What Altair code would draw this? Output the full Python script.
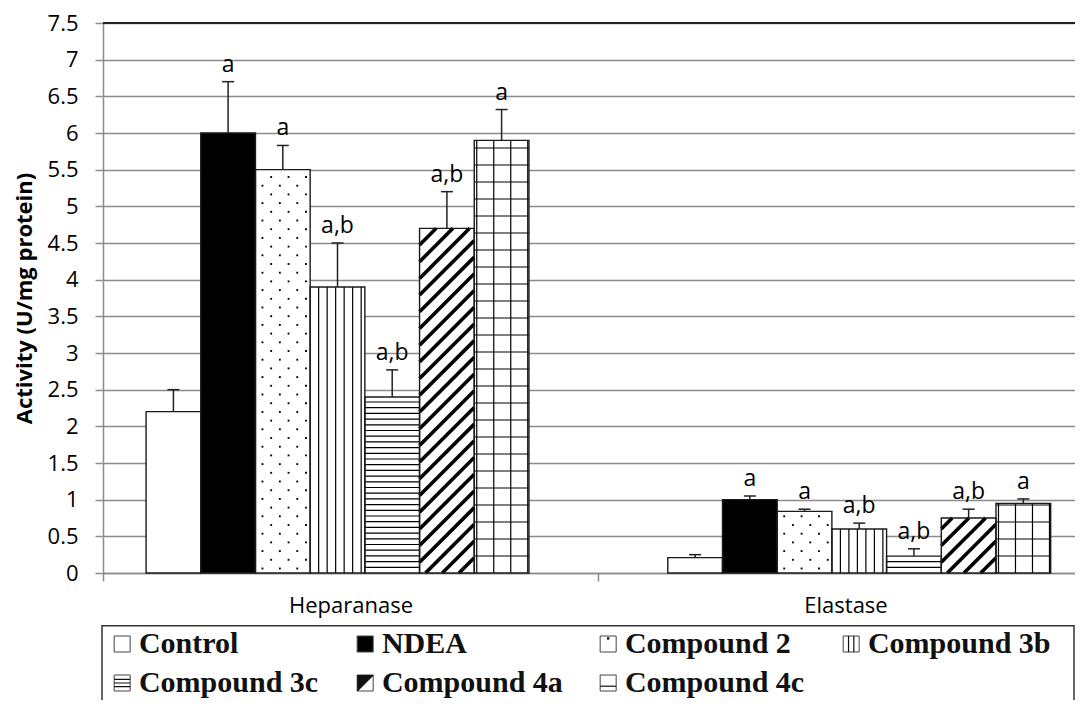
import altair as alt
import numpy as np
import pandas as pd

# ---------------- data ----------------
categories = ["Heparanase", "Elastase"]
series = ["Control", "NDEA", "Compound 2", "Compound 3b", "Compound 3c", "Compound 4a", "Compound 4c"]
heparanase_mean = [2.2, 6.0, 5.5, 3.9, 2.4, 4.7, 5.9]
heparanase_sd = [0.3, 0.7, 0.33, 0.6, 0.37, 0.5, 0.42]
elastase_mean = [0.21, 1.0, 0.84, 0.6, 0.23, 0.75, 0.95]
elastase_sd = [0.04, 0.05, 0.03, 0.08, 0.1, 0.12, 0.06]
heparanase_letters = ["", "a", "a", "a,b", "a,b", "a,b", "a"]
elastase_letters = ["", "a", "a", "a,b", "a,b", "a,b", "a"]
legend_labels = ["Control", "NDEA", "Compound 2", "Compound 3b",
                 "\u00a0Compound 3c", "Compound 4a", "Compound 4c"]
y_ticks = [0, 0.5, 1, 1.5, 2, 2.5, 3, 3.5, 4, 4.5, 5, 5.5, 6, 6.5, 7, 7.5]
y_title = "Activity (U/mg protein)"

# ---------------- styles / layout ----------------
series_fill = ["white", "black", "white", "white", "white", "white", "white"]
series_pattern = ["none", "none", "dots", "vlines", "hlines", "diag", "grid"]
W, H = 972, 550
Y_MAX = 7.5
BAND_PX = 495.0
X_MAX = W / BAND_PX
PX_X = BAND_PX
PX_Y = H / Y_MAX
GROUP_LEFT = [0.087, 1.141]
BW = 0.1105
CAP = 6.0 / PX_X
FONT = "Open Sans"
GRID = "#8c8c8c"

means = [heparanase_mean, elastase_mean]
sds = [heparanase_sd, elastase_sd]
letters = [heparanase_letters, elastase_letters]

bar_rows = []
rule_rows = []
dot_rows = []
for ci, cat in enumerate(categories):
    for si, s in enumerate(series):
        left = GROUP_LEFT[ci] + si * BW
        v = means[ci][si]
        sd = sds[ci][si]
        xc = left + BW / 2
        bar_rows.append(dict(cat=cat, series=s, x=left, x2=left + BW, xc=xc, v=v,
                             top=v + sd, c1=xc - CAP, c2=xc + CAP,
                             letter=letters[ci][si], fill=series_fill[si]))
        w_px = BW * PX_X
        h_px = v * PX_Y
        p = series_pattern[si]
        if p == "vlines":
            for k in range(1, 8):
                xo = 8.5 * k
                if xo < w_px - 2:
                    rule_rows.append(dict(x=left + xo / PX_X, x2=left + xo / PX_X, y=0, y2=v, w=1.2))
        elif p == "hlines":
            for yo in np.arange(5.7, h_px - 1.5, 5.7):
                rule_rows.append(dict(x=left, x2=left + BW, y=yo / PX_Y, y2=yo / PX_Y, w=1.2))
        elif p == "grid":
            for k in range(0, 4):
                xo = 2.5 + 17 * k
                if xo < w_px - 0.5:
                    rule_rows.append(dict(x=left + xo / PX_X, x2=left + xo / PX_X, y=0, y2=v, w=1.2))
            for yo in np.arange(17.0, h_px - 1.5, 17.0):
                rule_rows.append(dict(x=left, x2=left + BW, y=yo / PX_Y, y2=yo / PX_Y, w=1.2))
        elif p == "diag":
            P = 16.7
            for k in range(int(np.floor(-h_px / P)) - 1, int(np.ceil(w_px / P)) + 1):
                c = k * P + 6
                ymin = max(0.0, -c)
                ymax = min(h_px, w_px - c)
                if ymax - ymin > 0.8:
                    rule_rows.append(dict(x=left + (c + ymin) / PX_X, y=ymin / PX_Y,
                                          x2=left + (c + ymax) / PX_X, y2=ymax / PX_Y, w=3.6))
        elif p == "dots":
            for r, yo in enumerate(np.arange(4.5, h_px - 2, 8.7)):
                xo = 7.0 if r % 2 == 0 else 15.7
                while xo < w_px - 2:
                    dot_rows.append(dict(x=left + xo / PX_X, y=yo / PX_Y))
                    xo += 17.4

bars = pd.DataFrame(bar_rows)
rules = pd.DataFrame(rule_rows)
dots = pd.DataFrame(dot_rows)
labels_df = bars[bars["letter"] != ""]

xscale = alt.Scale(domain=[0, X_MAX], nice=False, zero=False)
yscale = alt.Scale(domain=[0, Y_MAX], nice=False, zero=True)

x_axis = alt.Axis(
    values=[0, 0.5, 1, 1.5], title=None, grid=False,
    labelExpr="datum.value == 0.5 ? 'Heparanase' : (datum.value == 1.5 ? 'Elastase' : '')",
    labelFont=FONT, labelFontSize=22, labelColor="black", labelPadding=14,
    tickSize=8, tickColor=GRID, tickWidth=1.5,
    tickOpacity={"condition": {"test": "datum.value == 0.5 || datum.value == 1.5", "value": 0}, "value": 1},
    domainColor=GRID, domainWidth=1.5,
)
y_axis = alt.Axis(
    values=y_ticks, tickCount=16, format="~g", title=y_title,
    titleFont=FONT, titleFontWeight="bold", titleFontSize=22, titleColor="black",
    titleAngle=270, titleX=-67, titleY=H / 2, titleBaseline="bottom", titleAlign="center",
    labelFont=FONT, labelFontSize=22, labelColor="black", labelPadding=17,
    labelOverlap=False,
    tickSize=8, tickColor=GRID, tickWidth=1.5,
    domainColor=GRID, domainWidth=1.5,
    grid=True, gridColor=GRID, gridWidth=1.5,
)


def X(field):
    return alt.X(field, scale=xscale, axis=x_axis)


def Y(field):
    return alt.Y(field, scale=yscale, axis=y_axis)


bar_fill = alt.Chart(bars).mark_bar(strokeWidth=0).encode(
    x=X("x:Q"), x2="x2:Q", y=Y("v:Q"), y2=alt.datum(0),
    fill=alt.Fill("fill:N", scale=None),
)

pattern_rules = alt.Chart(rules).mark_rule(color="black").encode(
    x=X("x:Q"), x2="x2:Q", y=Y("y:Q"), y2="y2:Q",
    strokeWidth=alt.StrokeWidth("w:Q", scale=None),
)

pattern_dots = alt.Chart(dots).mark_square(color="black", size=3.5, opacity=1).encode(
    x=X("x:Q"), y=Y("y:Q"),
)

bar_outline = alt.Chart(bars).mark_bar(fillOpacity=0, stroke="#1a1a1a", strokeWidth=1.4).encode(
    x=X("x:Q"), x2="x2:Q", y=Y("v:Q"), y2=alt.datum(0),
)

err_stem = alt.Chart(bars).mark_rule(color="#222", strokeWidth=1.5).encode(
    x=X("xc:Q"), y=Y("v:Q"), y2="top:Q",
)
err_cap = alt.Chart(bars).mark_rule(color="#222", strokeWidth=1.5).encode(
    x=X("c1:Q"), x2="c2:Q", y=Y("top:Q"),
)

letter_text = alt.Chart(labels_df).mark_text(
    font=FONT, fontSize=23, color="black", baseline="alphabetic", align="center", dy=-10,
).encode(x=X("xc:Q"), y=Y("top:Q"), text="letter:N")

top_line = alt.Chart(pd.DataFrame({"y": [Y_MAX]})).mark_rule(color="#222", strokeWidth=2).encode(
    y=Y("y:Q")
)

main = alt.layer(bar_fill, pattern_rules, pattern_dots, bar_outline,
                 err_stem, err_cap, letter_text, top_line)

# ---------------- legend ----------------
SQ = "M-1,-1H1V1H-1Z"
legend_detail_stroke = ["", "", "", "M-0.33,-1V1M0.33,-1V1",
                        "M-1,-0.45H1M-1,0H1M-1,0.45H1", "M-1,1L1,-1", "M-1,0.4H1"]
legend_detail_fill = ["", "", "M-0.15,-0.85H0.15V-0.55H-0.15Z", "", "",
                      "M-1,-1H1L-1,1Z", ""]
leg_rows = []
for i, lab in enumerate(legend_labels):
    r, c = divmod(i, 4)
    leg_rows.append(dict(label=lab, row=r, mx=c + 0.083, tx=c + 0.152,
                         mfill=series_fill[i], shape=SQ,
                         dstroke=legend_detail_stroke[i], dfill=legend_detail_fill[i]))
leg = pd.DataFrame(leg_rows)

lx = alt.Scale(domain=[0, 4], range=[-1, W - 1])
ly = alt.Scale(domain=[0, 1], range=[H + 71, H + 110])

leg_box = alt.Chart(pd.DataFrame({"x": [0], "x2": [4], "y": [-0.47], "y2": [2.5]})).mark_rect(
    fill="white", fillOpacity=0, stroke="#333", strokeWidth=1.5
).encode(
    x=alt.X("x:Q", scale=lx, axis=None), x2="x2:Q",
    y=alt.Y("y:Q", scale=ly, axis=None), y2="y2:Q",
)
leg_mark = alt.Chart(leg).mark_point(filled=True, stroke="#444", strokeWidth=1, size=256, opacity=1).encode(
    x=alt.X("mx:Q", scale=lx, axis=None),
    y=alt.Y("row:Q", scale=ly, axis=None),
    shape=alt.Shape("shape:N", scale=None),
    fill=alt.Fill("mfill:N", scale=None),
)
leg_dstroke = alt.Chart(leg[leg["dstroke"] != ""]).mark_point(
    filled=False, stroke="#111", strokeWidth=1.2, size=256, opacity=1
).encode(
    x=alt.X("mx:Q", scale=lx, axis=None),
    y=alt.Y("row:Q", scale=ly, axis=None),
    shape=alt.Shape("dstroke:N", scale=None),
)
leg_dfill = alt.Chart(leg[leg["dfill"] != ""]).mark_point(
    filled=True, fill="#111", strokeWidth=0, size=256, opacity=1
).encode(
    x=alt.X("mx:Q", scale=lx, axis=None),
    y=alt.Y("row:Q", scale=ly, axis=None),
    shape=alt.Shape("dfill:N", scale=None),
)
leg_text = alt.Chart(leg).mark_text(
    font="Liberation Serif", fontWeight="bold", fontSize=30, color="#111",
    align="left", baseline="middle",
).encode(
    x=alt.X("tx:Q", scale=lx, axis=None),
    y=alt.Y("row:Q", scale=ly, axis=None),
    text="label:N",
)
legend = alt.layer(leg_box, leg_mark, leg_dstroke, leg_dfill, leg_text)

chart = alt.layer(main, legend).resolve_scale(x="independent", y="independent").properties(
    width=W, height=H,
    autosize=alt.AutoSizeParams(type="none"),
    padding={"left": 95, "top": 15, "right": 0, "bottom": 127},
    background="white",
).configure_view(stroke=None)

chart.save("out.html", embed_options={"renderer": "svg", "actions": False})
